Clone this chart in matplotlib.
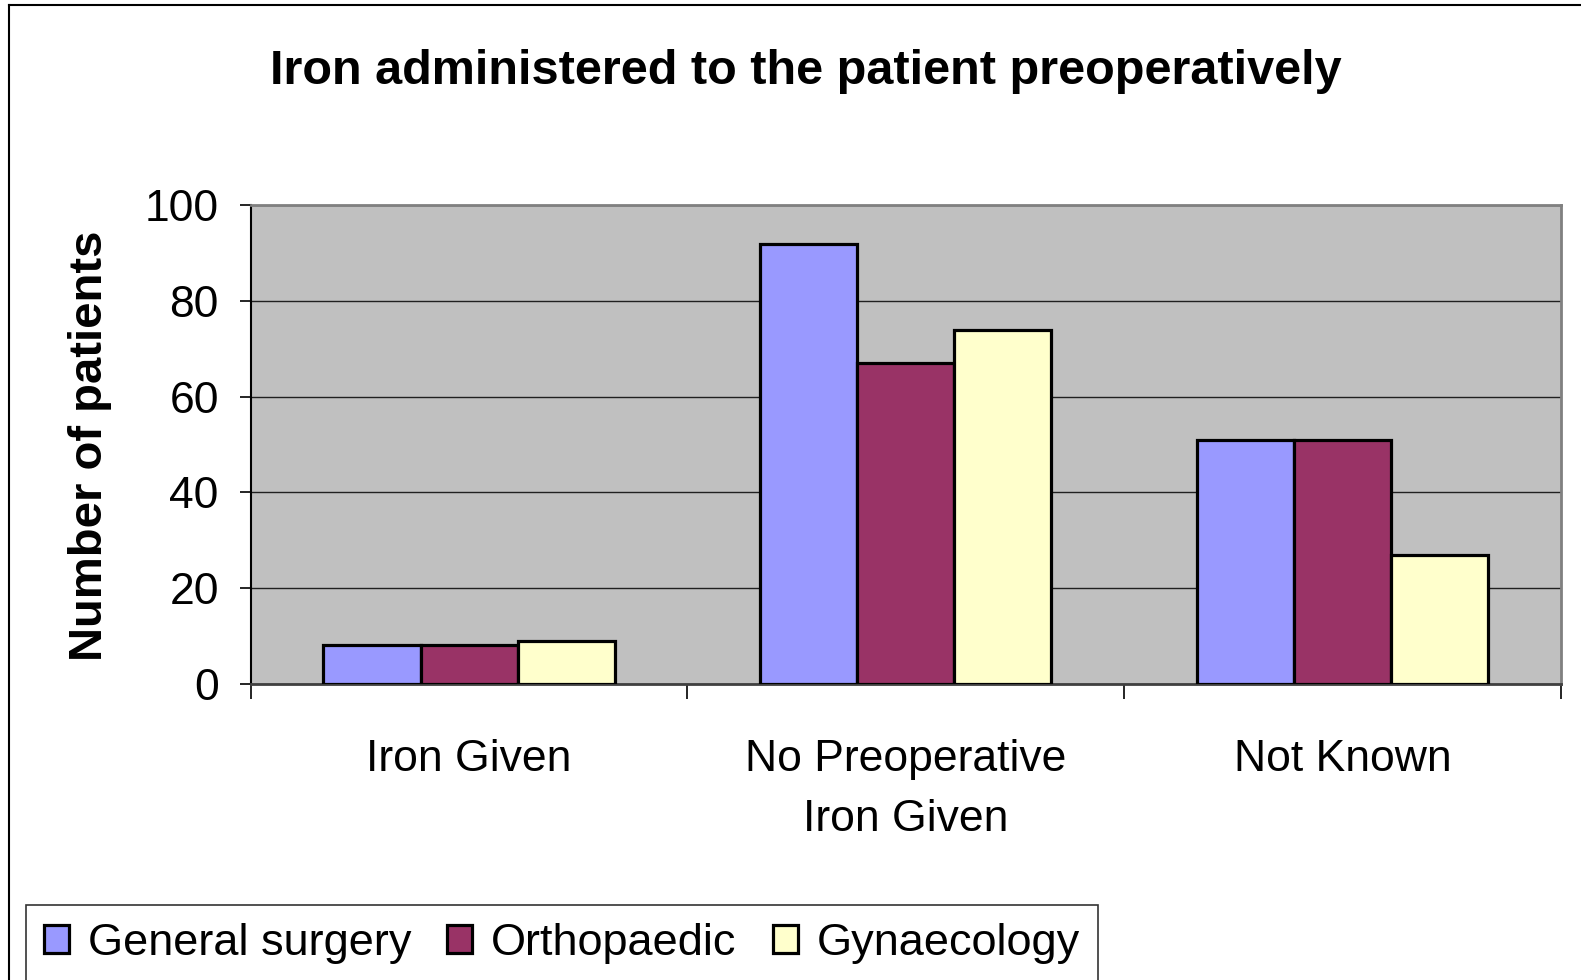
import numpy as np
import matplotlib
matplotlib.use("Agg")
from matplotlib import pyplot as plt
from matplotlib.lines import Line2D

#_____________________________DATA_______________________________________#
categories = ["Iron Given", "No Preoperative\nIron Given", "Not Known"]
series_names = ["General surgery", "Orthopaedic", "Gynaecology"]
general_surgery = [8, 92, 51]
orthopaedic = [8, 67, 51]
gynaecology = [9, 74, 27]
y_ticks = [0, 20, 40, 60, 80, 100]

#_____________________________STYLE______________________________________#
plt.rcParams['font.family'] = ['Liberation Sans', 'DejaVu Sans']
colors = ["#9999FF", "#993366", "#FFFFCC"]
W, H = 1581, 980

fig = plt.figure(figsize=(W / 100, H / 100), dpi=100)
ax = fig.add_axes([250.7 / W, 1 - 683.7 / H, (1561 - 250.7) / W, (683.7 - 205.3) / H])
ax.set_facecolor("#C0C0C0")

x = np.arange(len(categories))
bw = 1 / 4.5  # Excel-ish gap width of 150%
bars = []
for k, (vals, col) in enumerate(zip([general_surgery, orthopaedic, gynaecology], colors)):
    b = ax.bar(x + (k - 1) * bw, vals, width=bw, color=col, edgecolor="black",
               linewidth=2.3, label=series_names[k], zorder=3)
    bars.append(b)

ax.set_xlim(-0.5, len(categories) - 0.5)
ax.set_ylim(0, 100)
ax.set_yticks(y_ticks)
ax.yaxis.grid(True, color="#202020", linewidth=1.0, zorder=1)
ax.set_axisbelow(True)

# category labels centred, tick marks at category boundaries
ax.set_xticks(x)
ax.set_xticklabels(categories, fontsize=32, linespacing=1.6)
ax.set_xticks(np.arange(-0.5, len(categories)), minor=True)
ax.tick_params(axis="x", which="major", length=0, pad=40)
ax.tick_params(axis="x", which="minor", length=11, width=1.2, color="black")
ax.tick_params(axis="y", labelsize=32, length=8, width=1.2, pad=15)

for s in ["top", "right"]:
    ax.spines[s].set_color("#808080")
    ax.spines[s].set_linewidth(2)
ax.spines["left"].set_color("black")
ax.spines["left"].set_linewidth(1.5)
ax.spines["bottom"].set_color("#404040")
ax.spines["bottom"].set_linewidth(2)

# titles
fig.text(806 / W, 1 - 71 / H, "Iron administered to the patient preoperatively",
         ha="center", va="center", fontsize=35, fontweight="bold")
fig.text(90 / W, 1 - 446 / H, "Number of patients", rotation=90,
         ha="center", va="center", fontsize=34, fontweight="bold")

# legend (runs off the bottom of the picture, as in the original)
leg = fig.legend(handles=bars, loc="upper left", bbox_to_anchor=(26 / W, 1 - 905 / H),
                 ncol=3, fontsize=32.5, frameon=True, fancybox=False, borderaxespad=0,
                 handlelength=0.55, handleheight=0.6, handletextpad=0.42,
                 columnspacing=0.8, borderpad=0.4)
leg.get_frame().set_edgecolor("black")
leg.get_frame().set_linewidth(1.2)

# outer chart frame
fig.add_artist(Line2D([9 / W, 1], [1 - 5 / H, 1 - 5 / H], transform=fig.transFigure,
                      color="black", linewidth=1.5))
fig.add_artist(Line2D([9 / W, 9 / W], [1 - 5 / H, 0], transform=fig.transFigure,
                      color="black", linewidth=1.5))

fig.savefig("out.png", dpi=100)
